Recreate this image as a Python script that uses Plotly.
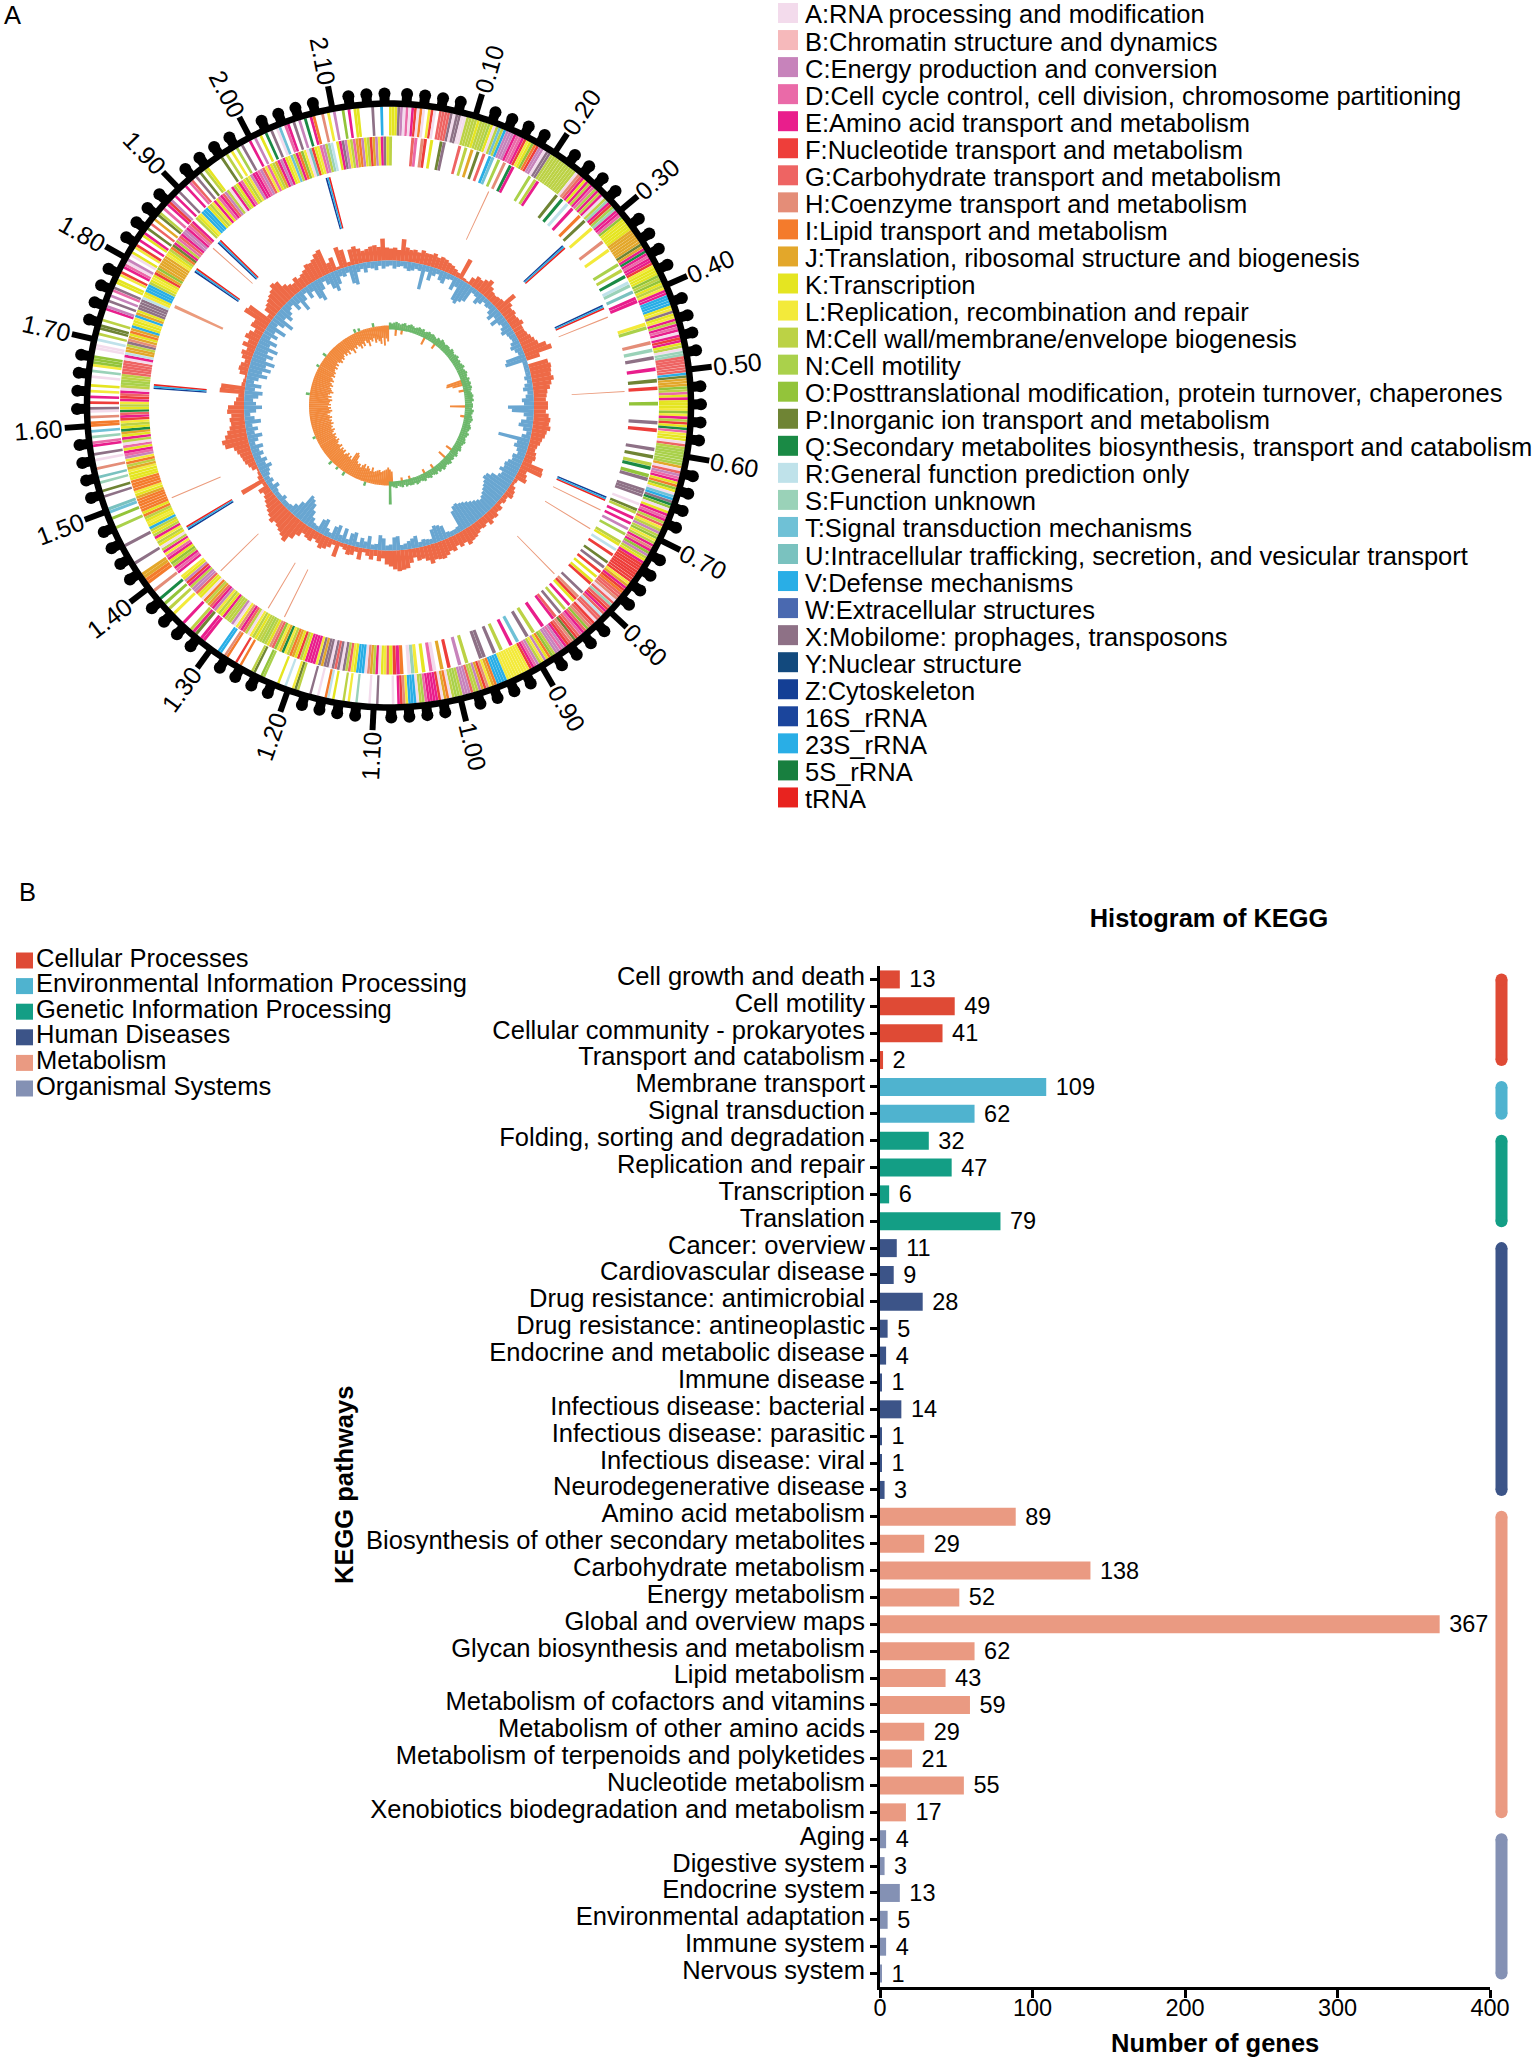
import math
import plotly.graph_objects as go

W, H = 1535, 2060
FONT = "Liberation Sans"

def fx(p): return p / W
def fy(p): return 1 - p / H

# ---------- Panel A data ----------
genome_mb = 2.165
major_mb = [0.10, 0.20, 0.30, 0.40, 0.50, 0.60, 0.70, 0.80, 0.90, 1.00, 1.10,
            1.20, 1.30, 1.40, 1.50, 1.60, 1.70, 1.80, 1.90, 2.00, 2.10]
minor_step_mb = 0.02

cog_letters = list("ABCDEFGHIJKLMNOPQRSTUVWXYZ")
cog_labels = [
    "A:RNA processing and modification", "B:Chromatin structure and dynamics",
    "C:Energy production and conversion", "D:Cell cycle control, cell division, chromosome partitioning",
    "E:Amino acid transport and metabolism", "F:Nucleotide transport and metabolism",
    "G:Carbohydrate transport and metabolism", "H:Coenzyme transport and metabolism",
    "I:Lipid transport and metabolism", "J:Translation, ribosomal structure and biogenesis",
    "K:Transcription", "L:Replication, recombination and repair",
    "M:Cell wall/membrane/envelope biogenesis", "N:Cell motility",
    "O:Posttranslational modification, protein turnover, chaperones",
    "P:Inorganic ion transport and metabolism",
    "Q:Secondary metabolites biosynthesis, transport and catabolism",
    "R:General function prediction only", "S:Function unknown",
    "T:Signal transduction mechanisms",
    "U:Intracellular trafficking, secretion, and vesicular transport",
    "V:Defense mechanisms", "W:Extracellular structures",
    "X:Mobilome: prophages, transposons", "Y:Nuclear structure", "Z:Cytoskeleton",
    "16S_rRNA", "23S_rRNA", "5S_rRNA", "tRNA"]
cog_colors = ["#f3dbec", "#f6b9bb", "#c783bb", "#ea6aa8", "#e91e8c", "#ee3e3a", "#ee6463",
              "#e48d78", "#f47b2c", "#e3a72a", "#e5e521", "#f3ea3a", "#bcd245", "#aad14b",
              "#93c43a", "#6f8434", "#1a8a45", "#bfe2ea", "#9ad2b8", "#6fc1d6", "#7ac2bf",
              "#29aee6", "#4a69b0", "#8e7186", "#12497d", "#143f95", "#1b459c", "#29aee6",
              "#187f3f", "#e8231f"]

# one string per 36 degrees, one letter per stripe, "." is an empty stripe
outer_ring = [
    "KKKXCADAEFAIA.LFA.GGGGXAXXAAMMMMKMMMNKAMTMVCCCEDDEFLKOIFCCAXXMMMMMM",
    "MMMMMAHGEKEMEDNEMEAMSEFNSEEDOKKKKKJJJJJJPJEQEDEEFLKKKOMOKMLEEVVVVKLX",
    "KLEMEDEAEFEKMASSGGGGGGVPJJJOMDKEKKKLOLEMFKQDLKKAGMNNNNNNJAGCDEKIOKAT",
    "VXQOAKEDEMGLMCMOLMEHEOCMKEFFFFFFFFLJEFIGGHAGSGFEGRGGAFGHOGEDGFPHGFE",
    "CDCCMOIKCLMCDEFLLLLLLLLLVVVVIJLHFJCMMGCCCMNNMAIJAFEEEEDNMAVVVLHFE.A.",
    "....X..A....S..L.M...K.RI..A..X....MPL..R..K.....NO..PM....I.F...IH.VV..",
    "...EE.PEM..E...L.M.O.Q..H..IIJJ...X.....X.....N..O.TU...",
    "X.P..S.U..H..A.X..ED.S.T.II.H.AX.F.E.L.K..A.S.LOOO..AA.R.M.PP.M..",
    ".EC.X.C.DX.KK.LF.EDAC.AK.LF.E.KE.P.G.J.PM.D.EFC.E.X..E.DG.X.P.MK..",
    "...P.M.L.N.X..E.C.K.Q.X.AT.DE.X.C.Q.EI..H.L.C..O.E.KK....X..V..",
]
inner_ring = [
    "M......GD.HF.K..PX....G.M.J.P.G.VT.N.H.QE.....N.ME...",
    "...P.Q.R.E..I.P..L....H..L....N.M.Q.RS.U.EE......",
    "LN...H.S.X..E..P.F...O....X.F....X.P.MQ.OX..",
    "XXX..A.PM.E.E.C.N..MK.R.F..P.X.F.K.KF...X.HFK.E.M.X.GE..",
    ".E..M.X..T.E..M.X..XX...M.C..F.J.AD.K.LSA.IEFK",
    "GLKAEMJHAVVVKLGMXAXGXAXXJXLEEEEKMFKJIMLQJLOGHKMNMMKMLAMGEHLAC",
    "MMMEKMLCEGJMIAKKGCCMEFCKL.EDEMOKEDLEMAKMLEMKMVKLKMIKIIIIIJKLI",
    "IIIKKKLJMILCDEKDAMEKJQKMLFEGQKMLEFGEAMNNMMGGGGGAERJJMXHJKIJVK",
    "KLVJKXXXXRLKVVVMKLKFJOJJJJJLKMIPEMDGECCEDGE.MKLVVVKMLEKDEGCMA",
    "EMKEDKMLCEEDCGLDKMJECEKLTMEIOLAUFKLDCMSR.KEXCLMDJICKMFJCLEXK",
]

rrna_theta = [47.8, 65.3, 113.3, 238.7, 274.6, 305.0, 314.0, 345.0]
trna_theta = [25.0, 68.0, 86.6, 116.3, 121.5, 135.5, 206.3, 210.8, 225.5, 247.0, 294.8, 311.8]

# GC content, one value per 1.5 degrees, heights outward / inward of the baseline
gc_high = [
    12,13,11,22,14,12,13,11,14,12, 12,14,11,13,12,10,9,7,5,22,
    3,2,8,12,11,14,17,12,9,8, 9,10,22,14,11,12,10,11,13,10,
    10,11,13,15,17,24,28,14,0,20, 22,21,20,22,19,17,14,13,12,14,
    14,12,15,17,16,18,15,14,12,11, 9,8,10,11,9,22,23,8,10,12,
    4,3,6,8,9,5,6,4,8,7, 10,9,12,8,10,9,11,13,14,16,
    12,14,11,15,13,16,18,17,16,19, 15,12,13,9,14,19,20,21,19,16,
    14,8,11,6,10,7,4,12,5,9, 10,6,4,16,5,9,12,14,10,8,
    12,11,9,14,20,27,24,22,20,18, 21,18,16,14,12,10,8,11,4,26,
    5,3,2,6,8,10,11,12,14,16, 24,26,22,19,16,14,15,13,17,16,
    10,8,6,25,24,4,3,2,8,10, 9,6,10,12,8,14,10,15,13,9,
    15,14,28,26,6,12,14,16,18,20, 24,22,15,12,10,14,11,13,15,19,
    18,20,24,26,10,14,3,22,18,4, 16,18,15,12,13,15,16,14,22,13]
gc_low = [
    4,8,6,5,7,9,8,6,7,25, 6,14,8,5,10,12,6,5,14,9,
    22,24,20,17,5,6,12,9,5,7, 6,10,14,8,15,9,7,10,12,8,
    7,6,9,11,8,6,20,22,2,2, 4,5,7,5,8,10,6,8,12,10,
    26,22,10,7,12,14,9,5,9,32, 12,14,10,8,12,11,14,16,15,18,
    14,16,22,26,27,24,22,20,18,16, 14,16,18,20,22,24,25,27,26,22,
    6,5,4,6,14,16,17,14,4,6, 7,5,12,10,8,6,4,14,13,6,
    5,12,15,6,4,13,7,10,5,14, 12,5,15,7,16,13,5,8,16,14,
    3,6,10,16,22,25,27,16,10,6, 5,4,8,3,4,6,10,5,8,6,
    8,10,14,9,12,7,11,8,13,6, 10,15,8,12,7,16,10,6,12,18,
    12,9,14,18,10,16,8,12,20,14, 22,16,24,14,20,13,22,12,18,9,
    15,10,20,8,14,22,10,16,12,8, 6,14,9,20,11,5,13,8,18,22,
    12,5,10,16,20,14,7,9,6,18, 20,8,6,10,6,7,9,5,8,6]

# GC skew, one value per 1.5 degrees
skew_neg = [
    0,0,0,10,0,0,8,0,0,0, 0,0,0,0,0,0,0,0,11,0,
    0,0,0,0,9,0,0,0,0,0, 0,0,0,0,0,0,0,0,0,0,
    0,0,0,0,0,0,0,19,20,14, 0,0,9,0,0,0,0,0,0,0,
    19,0,0,0,0,8,0,0,0,0, 0,0,0,0,0,0,0,0,0,0,
    0,0,0,10,0,0,0,0,12,0, 0,0,0,0,0,0,8,0,0,0,
    0,8,0,0,0,0,0,0,0,7, 0,0,0,7,0,0,0,0,14,16,
    18,16,15,14,13,15,14,13,12,16, 12,14,16,13,17,15,12,15,14,16,
    22,24,23,14,17,15,18,16,14,18, 16,18,15,19,17,16,18,20,17,19,
    18,20,17,19,21,18,20,19,22,20, 21,19,22,20,18,21,23,20,22,19,
    22,20,21,23,19,22,18,20,23,21, 20,18,21,19,17,20,18,16,19,17,
    18,16,15,17,14,16,13,15,17,14, 16,14,12,15,13,16,12,14,18,13,
    15,12,14,17,13,16,11,14,18,12, 14,11,16,13,15,18,12,20,13,16]
skew_pos = [
    7,6,7,8,7,6,7,8,6,7, 8,7,6,7,8,7,8,6,7,8,
    7,8,7,6,8,7,9,8,7,8, 8,7,9,8,7,8,9,7,8,7,
    8,9,7,8,9,8,7,9,8,9, 8,9,8,7,8,9,8,9,7,8,
    8,7,9,8,7,8,9,8,7,8, 9,8,7,9,8,7,8,9,8,7,
    8,9,7,8,9,7,8,7,9,8, 7,8,9,7,8,6,8,7,6,8,
    7,6,8,7,6,7,8,6,7,7, 6,7,5,7,6,5,7,6,5,23,
    0,0,0,0,0,0,0,0,0,0, 0,4,0,0,0,0,0,0,0,0,
    0,0,4,0,0,0,3,0,0,0, 4,0,0,0,0,0,0,0,0,0,
    0,0,0,0,3,0,0,0,0,0, 0,0,0,0,0,0,0,0,0,0,
    0,0,0,0,0,4,0,0,0,0, 0,0,0,0,0,0,0,0,0,3,
    0,0,0,0,0,4,0,0,0,0, 0,0,0,0,0,0,0,0,0,0,
    0,0,0,4,0,3,0,0,0,0, 0,0,4,0,0,0,0,0,0,0]

# ---------- Panel B data ----------
group_names = ["Cellular Processes", "Environmental Information Processing",
               "Genetic Information Processing", "Human Diseases", "Metabolism",
               "Organismal Systems"]
group_colors = ["#df4a35", "#4fb3cf", "#139e85", "#3c5488", "#ea9a82", "#8491b4"]
group_pathways = [
    ["Cell growth and death", "Cell motility", "Cellular community - prokaryotes",
     "Transport and catabolism"],
    ["Membrane transport", "Signal transduction"],
    ["Folding, sorting and degradation", "Replication and repair", "Transcription", "Translation"],
    ["Cancer: overview", "Cardiovascular disease", "Drug resistance: antimicrobial",
     "Drug resistance: antineoplastic", "Endocrine and metabolic disease", "Immune disease",
     "Infectious disease: bacterial", "Infectious disease: parasitic",
     "Infectious disease: viral", "Neurodegenerative disease"],
    ["Amino acid metabolism", "Biosynthesis of other secondary metabolites",
     "Carbohydrate metabolism", "Energy metabolism", "Global and overview maps",
     "Glycan biosynthesis and metabolism", "Lipid metabolism",
     "Metabolism of cofactors and vitamins", "Metabolism of other amino acids",
     "Metabolism of terpenoids and polyketides", "Nucleotide metabolism",
     "Xenobiotics biodegradation and metabolism"],
    ["Aging", "Digestive system", "Endocrine system", "Environmental adaptation",
     "Immune system", "Nervous system"],
]
group_values = [
    [13, 49, 41, 2], [109, 62], [32, 47, 6, 79],
    [11, 9, 28, 5, 4, 1, 14, 1, 1, 3],
    [89, 29, 138, 52, 367, 62, 43, 59, 29, 21, 55, 17],
    [4, 3, 13, 5, 4, 1],
]
gene_ticks = [0, 100, 200, 300, 400]

# ---------- Layout constants (pixels) ----------
CX, CY, RMAX = 389, 405.5, 385
R_BLACK = 302
LABEL_SHIFT = 0.13
fig = go.Figure()

def wedges(theta, base, height, color, width):
    fig.add_trace(go.Barpolar(theta=theta, base=base, r=height, width=width,
                              marker=dict(color=color, line=dict(width=0)),
                              showlegend=False, hoverinfo="skip", subplot="polar"))

def ring_trace(chunks, r0, r1):
    colour = dict(zip(cog_letters, cog_colors))
    th, w, c = [], [], []
    for k, chunk in enumerate(chunks):
        cell = 36 / len(chunk)
        for i, ch in enumerate(chunk):
            if ch != ".":
                th.append(k * 36 + (i + 0.5) * cell)
                w.append(cell * 0.95)
                c.append(colour[ch])
    wedges(th, [r0] * len(th), [r1 - r0] * len(th), c, w)

ring_trace(outer_ring, 270, 299)
ring_trace(inner_ring, 240, 269)

# rRNA and tRNA loci
for off, col in [(-0.4, "#143f95"), (0.0, "#29aee6"), (0.4, "#e8231f")]:
    wedges([t + off for t in rrna_theta], [183] * len(rrna_theta), [53] * len(rrna_theta), col, 0.4)
wedges(trna_theta, [183] * len(trna_theta), [53] * len(trna_theta), "#eb9b7c",
       [0.75 if t == 294.8 else 0.28 for t in trna_theta])

# GC content
bins = [(i + 0.5) * 1.5 for i in range(240)]
wedges(bins, [145] * 240, gc_high, "#ee6a47", 1.6)
low_h = [max(v, 5) if v else 0 for v in gc_low]
wedges(bins, [145 - v for v in low_h], low_h, "#69a6d1", 1.6)

# GC skew
wedges(bins, [80 - v for v in skew_neg], skew_neg, "#f28a3c", 1.7)
wedges(bins, [76 if t < 181 else 80 for t in bins], skew_pos, "#6cb86b", 1.7)

# scale ring
def mb2deg(m): return m / genome_mb * 360
n_minor = int(genome_mb / minor_step_mb)
all_minor = [i * minor_step_mb for i in range(n_minor + 1) if i % 5 != 0]
ring_th = [i for i in range(361)]
fig.add_trace(go.Scatterpolar(theta=ring_th, r=[R_BLACK] * 361, mode="lines",
                              line=dict(color="black", width=6.5), showlegend=False,
                              hoverinfo="skip", subplot="polar"))
mt, mr = [], []
for m in all_minor:
    mt += [mb2deg(m), mb2deg(m), None]
    mr += [R_BLACK, 312, None]
fig.add_trace(go.Scatterpolar(theta=mt, r=mr, mode="lines", line=dict(color="black", width=10),
                              showlegend=False, hoverinfo="skip", subplot="polar"))
fig.add_trace(go.Scatterpolar(theta=[mb2deg(m) for m in all_minor], r=[312] * len(all_minor),
                              mode="markers", marker=dict(color="black", size=12, line=dict(width=0)),
                              showlegend=False, hoverinfo="skip", subplot="polar"))
jt, jr = [], []
for m in major_mb:
    jt += [mb2deg(m), mb2deg(m), None]
    jr += [R_BLACK, 325, None]
fig.add_trace(go.Scatterpolar(theta=jt, r=jr, mode="lines", line=dict(color="black", width=6),
                              showlegend=False, hoverinfo="skip", subplot="polar"))

annos, shapes = [], []
for m in major_mb:
    t = mb2deg(m)
    a = math.radians(t)
    annos.append(dict(x=fx(CX + 351 * math.sin(a)), y=fy(CY - 351 * math.cos(a)),
                      xref="paper", yref="paper", text=f"{m:.2f}", showarrow=False,
                      textangle=t - 90 if t < 180 else t - 270,
                      font=dict(family=FONT, size=25, color="black"),
                      xanchor="center", yanchor="middle"))

# Panel B bars
pathways = [p for g in group_pathways for p in g]
for name, col, ps, vs in zip(group_names, group_colors, group_pathways, group_values):
    fig.add_trace(go.Bar(x=vs, y=ps, orientation="h", marker=dict(color=col, line=dict(width=0)),
                         width=0.67, name=name, showlegend=False, xaxis="x", yaxis="y",
                         text=[f" {v}" for v in vs], textposition="outside", constraintext="none",
                         textangle=0, textfont=dict(family=FONT, size=23.5, color="black"),
                         cliponaxis=False, hoverinfo="x+y"))
    # group strip on the right of the axis, on its own small x axis
    fig.add_trace(go.Scatter(x=[0.5, 0.5], y=[ps[0], ps[-1]], mode="lines+markers",
                             line=dict(color=col, width=12),
                             marker=dict(color=col, size=12, line=dict(width=0)),
                             cliponaxis=False, showlegend=False, hoverinfo="skip",
                             xaxis="x2", yaxis="y"))
# labels axis: an invisible trace carries the category labels
fig.add_trace(go.Scatter(x=[0] * len(pathways), y=pathways, mode="markers", marker=dict(opacity=0),
                         showlegend=False, hoverinfo="skip", xaxis="x", yaxis="y2"))

# Legends
for i, (lab, col) in enumerate(zip(cog_labels, cog_colors)):
    yc = 13 + 27.05 * i
    shapes.append(dict(type="rect", xref="paper", yref="paper", x0=fx(778), x1=fx(798),
                       y0=fy(yc - 10), y1=fy(yc + 10), fillcolor=col, line=dict(width=0)))
    annos.append(dict(x=fx(803), y=fy(yc + 1.5), xref="paper", yref="paper", text=lab,
                      showarrow=False, xanchor="left", yanchor="middle",
                      font=dict(family=FONT, size=25.5, color="black")))
for i, (lab, col) in enumerate(zip(group_names, group_colors)):
    yc = 960.5 + 25.6 * i
    shapes.append(dict(type="rect", xref="paper", yref="paper", x0=fx(16), x1=fx(33),
                       y0=fy(yc - 8), y1=fy(yc + 8), fillcolor=col, line=dict(width=0)))
    annos.append(dict(x=fx(34), y=fy(yc - 3), xref="paper", yref="paper", text=lab,
                      showarrow=False, xanchor="left", yanchor="middle",
                      font=dict(family=FONT, size=25.5, color="black")))

annos += [
    dict(x=fx(12), y=fy(15), xref="paper", yref="paper", text="A", showarrow=False,
         xanchor="center", yanchor="middle", font=dict(family=FONT, size=25.5, color="black")),
    dict(x=fx(27), y=fy(892), xref="paper", yref="paper", text="B", showarrow=False,
         xanchor="center", yanchor="middle", font=dict(family=FONT, size=25.5, color="black")),
    dict(x=fx(1215), y=fy(2043), xref="paper", yref="paper", text="<b>Number of genes</b>",
         showarrow=False, xanchor="center", yanchor="middle",
         font=dict(family=FONT, size=25.5, color="black")),
    dict(x=fx(344), y=fy(1485), xref="paper", yref="paper", text="<b>KEGG pathways</b>",
         showarrow=False, textangle=-90, xanchor="center", yanchor="middle",
         font=dict(family=FONT, size=25.5, color="black")),
]

fig.update_layout(
    width=W, height=H, margin=dict(l=0, r=0, t=0, b=0, autoexpand=False), autosize=False,
    paper_bgcolor="white", plot_bgcolor="white", showlegend=False,
    font=dict(family=FONT, color="black"),
    title=dict(text="<b>Histogram of KEGG</b>", x=fx(1209), y=fy(918), xanchor="center",
               yanchor="middle", xref="paper", yref="paper",
               font=dict(family=FONT, size=25.4, color="black")),
    polar=dict(
        domain=dict(x=[fx(CX - RMAX), fx(CX + RMAX)], y=[fy(CY + RMAX), fy(CY - RMAX)]),
        bgcolor="rgba(0,0,0,0)", bargap=0, barmode="overlay",
        radialaxis=dict(range=[0, RMAX], visible=False),
        angularaxis=dict(direction="clockwise", rotation=90, visible=False, thetaunit="degrees"),
    ),
    xaxis=dict(domain=[fx(880), fx(1490)], range=[0, 400], tickvals=gene_ticks,
               showgrid=False, zeroline=False, showline=True, linecolor="black", linewidth=3,
               ticks="outside", ticklen=8, tickwidth=3, tickcolor="black", ticklabelstandoff=-10,
               tickfont=dict(family=FONT, size=23.5, color="black"), anchor="y"),
    xaxis2=dict(domain=[fx(1491.5), fx(1511.5)], range=[0, 1], visible=False, anchor="y"),
    yaxis=dict(domain=[fy(1987), fy(966)], type="category", categoryorder="array",
               categoryarray=pathways, range=[37.5, -0.5], showgrid=False, zeroline=False,
               showline=True, linecolor="black", linewidth=3, ticks="outside", ticklen=7,
               tickwidth=3, tickcolor="black", dtick=1, showticklabels=False, anchor="x"),
    yaxis2=dict(domain=[fy(1987), fy(966)], type="category", categoryorder="array",
                categoryarray=pathways, range=[37.5 + LABEL_SHIFT, -0.5 + LABEL_SHIFT],
                overlaying="y", side="left", showgrid=False, zeroline=False, showline=False,
                ticks="", dtick=1, ticklabelstandoff=14,
                tickfont=dict(family=FONT, size=25.5, color="black"), anchor="x"),
    bargap=0.33, annotations=annos, shapes=shapes,
)

fig.write_html("out.html", post_script="document.body.style.margin='0';",
               config={"displayModeBar": False})
